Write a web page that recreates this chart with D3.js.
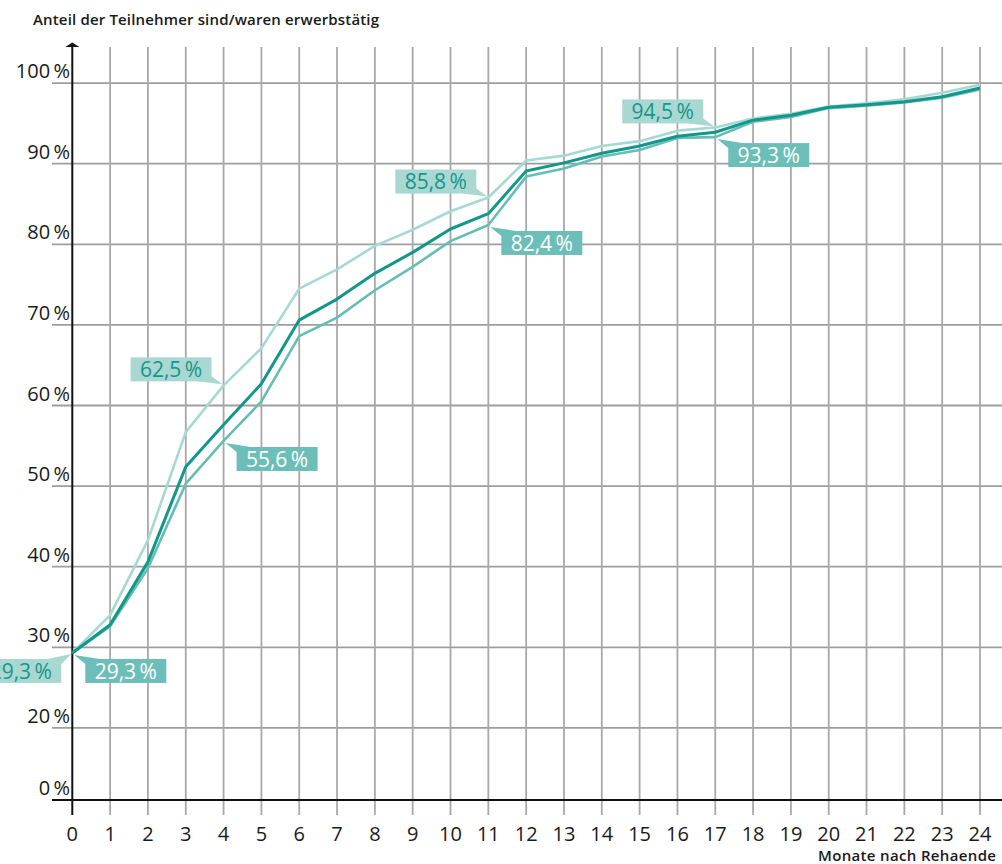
<!DOCTYPE html>
<html>
<head>
<meta charset="utf-8">
<script src="https://cdn.jsdelivr.net/npm/d3@7"></script>
<style>
  body { margin: 0; background: #fff; }
  svg { display: block; }
</style>
</head>
<body>
<svg id="chart" width="1002" height="864"></svg>
<script>
// months after end of rehab
var months = d3.range(0, 25);
var yTicks = [0, 20, 30, 40, 50, 60, 70, 80, 90, 100];

// share employed (%)
var seriesLight = [29.3, 34.0, 43.3, 56.7, 62.5, 67.1, 74.5, 76.9, 79.8, 81.8, 84.1, 85.8, 90.4,
                   91.0, 92.2, 92.8, 94.1, 94.5, 95.6, 96.2, 97.1, 97.5, 98.0, 98.8, 99.8];
var seriesDark = [29.3, 32.8, 40.6, 52.4, 57.6, 62.7, 70.6, 73.2, 76.4, 79.0, 81.9, 83.8, 89.1,
                  90.1, 91.3, 92.2, 93.4, 93.9, 95.4, 96.0, 97.0, 97.3, 97.7, 98.3, 99.4];
var seriesMid = [29.3, 32.6, 39.8, 50.3, 55.6, 60.5, 68.6, 70.9, 74.3, 77.2, 80.4, 82.4, 88.4,
                 89.4, 90.9, 91.7, 93.2, 93.3, 95.2, 95.8, 96.9, 97.2, 97.6, 98.2, 99.2];

// callouts: series, month, text
var callouts = [
  { s: "light", m: 0,  text: "29,3\u2009%" },
  { s: "mid",   m: 0,  text: "29,3\u2009%" },
  { s: "light", m: 4,  text: "62,5\u2009%" },
  { s: "mid",   m: 4,  text: "55,6\u2009%" },
  { s: "light", m: 11, text: "85,8\u2009%" },
  { s: "mid",   m: 11, text: "82,4\u2009%" },
  { s: "light", m: 17, text: "94,5\u2009%" },
  { s: "mid",   m: 17, text: "93,3\u2009%" }
];

var svg = d3.select("#chart");
var font = "'Open Sans', sans-serif";

var colors = { light: "#a7d9d3", dark: "#12978b", mid: "#66bdb5" };
var boxFill = { light: "#a9d8d2", mid: "#6cbfb8" };
var boxText = { light: "#15978b", mid: "#ffffff" };

var x = d3.scaleLinear().domain([0, 24]).range([72.3, 980]);
// axis is squeezed below 20 %
var y = d3.scaleLinear().domain([0, 20, 100]).range([800, 727.9, 83.1]);

// horizontal grid
svg.append("g")
  .selectAll("line")
  .data(yTicks.filter(d => d > 0))
  .join("line")
  .attr("x1", 52).attr("x2", 1002)
  .attr("y1", d => y(d)).attr("y2", d => y(d))
  .attr("stroke", "#9e9e9e").attr("stroke-width", 1.8);

// vertical grid
svg.append("g")
  .selectAll("line")
  .data(months.filter(d => d > 0))
  .join("line")
  .attr("x1", d => x(d)).attr("x2", d => x(d))
  .attr("y1", 47).attr("y2", 815)
  .attr("stroke", "#a8a8a8").attr("stroke-width", 1.8);

// x axis
svg.append("line")
  .attr("x1", 52).attr("x2", 1002)
  .attr("y1", y(0)).attr("y2", y(0))
  .attr("stroke", "#111").attr("stroke-width", 2);

// y axis with arrow
svg.append("line")
  .attr("x1", x(0)).attr("x2", x(0))
  .attr("y1", 46).attr("y2", 815)
  .attr("stroke", "#111").attr("stroke-width", 2);
svg.append("path")
  .attr("d", "M" + (x(0) - 7) + ",47 L" + x(0) + ",42.5 L" + (x(0) + 7) + ",47 Z")
  .attr("fill", "#111");

// y tick labels
svg.append("g")
  .selectAll("text")
  .data(yTicks)
  .join("text")
  .attr("x", 70)
  .attr("y", d => y(d) - 5)
  .attr("text-anchor", "end")
  .style("font-family", font)
  .style("font-size", "20px")
  .style("fill", "#1a1a1a")
  .text(d => d + "\u2009%");

// x tick labels
svg.append("g")
  .selectAll("text")
  .data(months)
  .join("text")
  .attr("x", d => x(d))
  .attr("y", 841)
  .attr("text-anchor", "middle")
  .style("font-family", font)
  .style("font-size", "20px")
  .style("fill", "#1a1a1a")
  .text(d => d);

// titles
svg.append("text")
  .attr("x", 33).attr("y", 25)
  .style("font-family", font)
  .style("font-size", "15px")
  .style("font-weight", 600)
  .style("fill", "#1a1a1a")
  .attr("textLength", 346)
  .text("Anteil der Teilnehmer sind/waren erwerbstätig");

svg.append("text")
  .attr("x", 996).attr("y", 861)
  .attr("text-anchor", "end")
  .style("font-family", font)
  .style("font-size", "15px")
  .style("font-weight", 600)
  .style("fill", "#1a1a1a")
  .attr("textLength", 178)
  .text("Monate nach Rehaende");

// lines
var line = d3.line().x((d, i) => x(i)).y(d => y(d));
var lines = [
  { key: "light", values: seriesLight },
  { key: "mid", values: seriesMid },
  { key: "dark", values: seriesDark }
];
svg.append("g")
  .selectAll("path")
  .data(lines)
  .join("path")
  .attr("d", d => line(d.values))
  .attr("fill", "none")
  .attr("stroke", d => colors[d.key])
  .attr("stroke-width", d => d.key == "dark" ? 3 : 2.6)
  .attr("stroke-linejoin", "round");

// callout boxes
var boxW = 81, boxH = 24;
var valueOf = { light: seriesLight, mid: seriesMid };

function placement(c) {
  if (c.s == "mid") return "lr";
  return c.m == 0 ? "ll" : "ul";
}

svg.append("g")
  .selectAll("g")
  .data(callouts)
  .join("g")
  .each(function (c) {
    var g = d3.select(this);
    var px = x(c.m), py = y(valueOf[c.s][c.m]);
    var pos = placement(c);
    var bx, by, tail;
    if (pos == "ul") {
      bx = px - 12 - boxW; by = py - 4 - boxH;
      tail = [[bx + boxW, by + boxH - 5], [px - 1, py - 1], [bx + boxW - 14, by + boxH]];
    } else if (pos == "ll") {
      bx = px - 11 - boxW; by = py + 6;
      tail = [[bx + boxW, by + 5], [px - 1, py + 1], [bx + boxW - 14, by]];
    } else {
      bx = px + 13; by = py + 6;
      tail = [[bx, by + 5], [px + 2, py + 2], [bx + 14, by]];
    }
    g.append("path")
      .attr("d", "M" + tail.join("L") + "Z")
      .attr("fill", boxFill[c.s]);
    g.append("rect")
      .attr("x", bx).attr("y", by)
      .attr("width", boxW).attr("height", boxH)
      .attr("fill", boxFill[c.s]);
    g.append("text")
      .attr("x", bx + boxW / 2)
      .attr("y", by + boxH / 2)
      .attr("dy", "0.36em")
      .attr("text-anchor", "middle")
      .style("font-family", font)
      .style("font-size", "21px")
      .style("fill", boxText[c.s])
      .text(c.text);
  });
</script>
</body>
</html>
